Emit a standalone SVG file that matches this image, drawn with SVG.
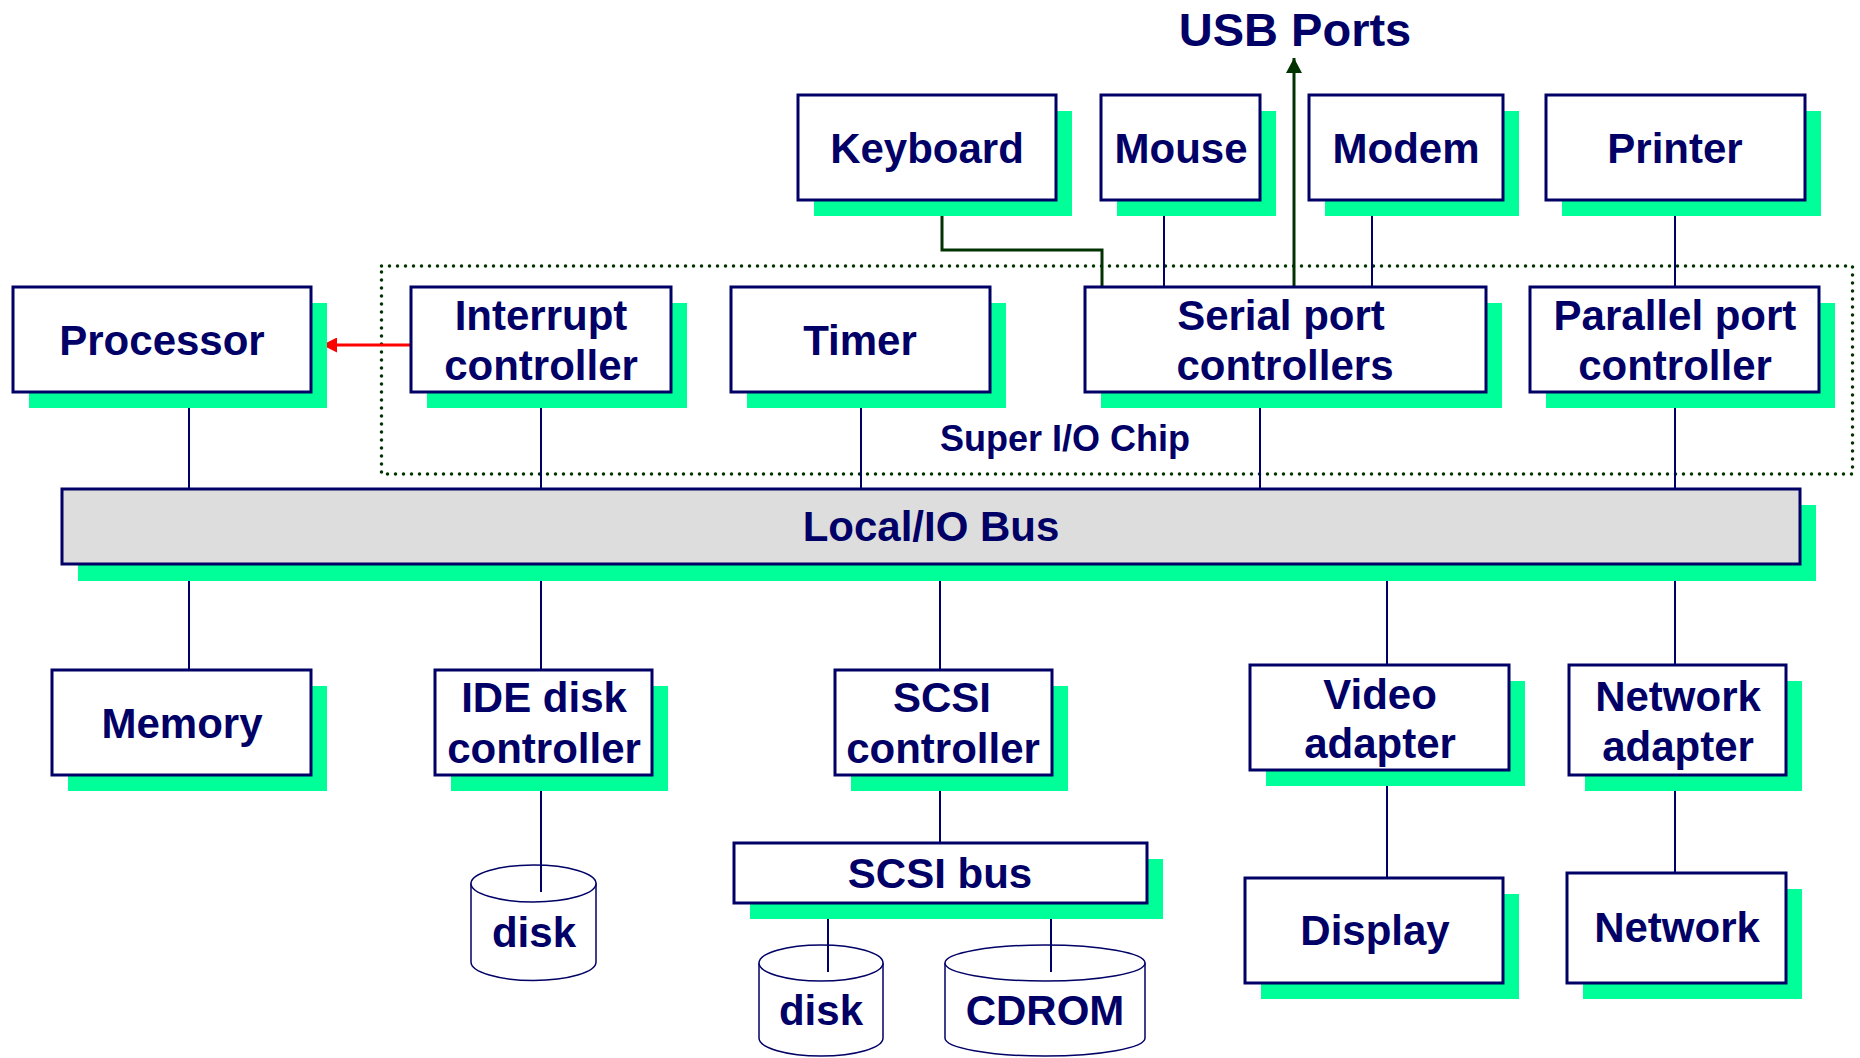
<svg xmlns="http://www.w3.org/2000/svg" width="1860" height="1058" viewBox="0 0 1860 1058">
<defs>
<style>
.sh{fill:#00FF99;stroke:none}
.bx{fill:#FFFFFF;stroke:#000066;stroke-width:3}
.bus{fill:#DDDDDD;stroke:#000066;stroke-width:3}
.t{font-family:"Liberation Sans",Arial,sans-serif;font-weight:bold;font-size:42px;fill:#000066;text-anchor:middle}
.ln{stroke:#000066;stroke-width:2;fill:none}
.cy{fill:#FFFFFF;stroke:#000066;stroke-width:1.5}
.gr{stroke:#003300;stroke-width:3;fill:none}
</style>
<marker id="ar" markerWidth="15" markerHeight="16" refX="15" refY="8" orient="auto" markerUnits="userSpaceOnUse" viewBox="0 0 15 16">
<path d="M0,0 L15,8 L0,16 Z" fill="#003300"/>
</marker>
<marker id="arr" markerWidth="15" markerHeight="15" refX="15" refY="7.5" orient="auto" markerUnits="userSpaceOnUse" viewBox="0 0 15 15">
<path d="M0,0 L15,7.5 L0,15 Z" fill="#FF0000"/>
</marker>
</defs>
<rect width="1860" height="1058" fill="#FFFFFF"/>

<g id="superio">
<rect x="381.5" y="266" width="1471" height="208" fill="none" stroke="#003300" stroke-width="3.5" stroke-linecap="round" stroke-dasharray="0 8"/>
<text class="t" x="1065" y="451" style="font-size:36px">Super I/O Chip</text>
</g>

<g id="connectors">
<line class="ln" x1="189" y1="407" x2="189" y2="489"/>
<line class="ln" x1="541" y1="407" x2="541" y2="489"/>
<line class="ln" x1="861" y1="407" x2="861" y2="489"/>
<line class="ln" x1="1260" y1="407" x2="1260" y2="489"/>
<line class="ln" x1="1675" y1="407" x2="1675" y2="489"/>
<line class="ln" x1="1164" y1="216" x2="1164" y2="287"/>
<line class="ln" x1="1372" y1="216" x2="1372" y2="287"/>
<line class="ln" x1="1675" y1="216" x2="1675" y2="287"/>
<polyline class="gr" points="942,216 942,250 1102,250 1102,287"/>
<line class="gr" x1="1294" y1="287" x2="1294" y2="58" marker-end="url(#ar)"/>
<line x1="411" y1="345" x2="322" y2="345" stroke="#FF0000" stroke-width="3" marker-end="url(#arr)"/>
<line class="ln" x1="189" y1="581" x2="189" y2="670"/>
<line class="ln" x1="541" y1="581" x2="541" y2="670"/>
<line class="ln" x1="940" y1="581" x2="940" y2="670"/>
<line class="ln" x1="1387" y1="581" x2="1387" y2="665"/>
<line class="ln" x1="1675" y1="581" x2="1675" y2="665"/>
<line class="ln" x1="940" y1="791" x2="940" y2="843"/>
<line class="ln" x1="1387" y1="786" x2="1387" y2="878"/>
<line class="ln" x1="1675" y1="791" x2="1675" y2="873"/>
</g>

<g id="usb">
<text class="t" x="1295" y="46" style="font-size:47px">USB Ports</text>
</g>

<g id="keyboard">
<rect class="sh" x="814" y="111" width="258" height="105"/>
<rect class="bx" x="798" y="95" width="258" height="105"/>
<text class="t" x="927" y="163">Keyboard</text>
</g>
<g id="mouse">
<rect class="sh" x="1117" y="111" width="159" height="105"/>
<rect class="bx" x="1101" y="95" width="159" height="105"/>
<text class="t" x="1181" y="163">Mouse</text>
</g>
<g id="modem">
<rect class="sh" x="1325" y="111" width="194" height="105"/>
<rect class="bx" x="1309" y="95" width="194" height="105"/>
<text class="t" x="1406" y="163">Modem</text>
</g>
<g id="printer">
<rect class="sh" x="1562" y="111" width="259" height="105"/>
<rect class="bx" x="1546" y="95" width="259" height="105"/>
<text class="t" x="1675" y="163">Printer</text>
</g>

<g id="processor">
<rect class="sh" x="29" y="303" width="298" height="105"/>
<rect class="bx" x="13" y="287" width="298" height="105"/>
<text class="t" x="162" y="355">Processor</text>
</g>
<g id="interrupt">
<rect class="sh" x="427" y="303" width="260" height="105"/>
<rect class="bx" x="411" y="287" width="260" height="105"/>
<text class="t" x="541" y="330">Interrupt</text>
<text class="t" x="541" y="380">controller</text>
</g>
<g id="timer">
<rect class="sh" x="747" y="303" width="259" height="105"/>
<rect class="bx" x="731" y="287" width="259" height="105"/>
<text class="t" x="860" y="355">Timer</text>
</g>
<g id="serial">
<rect class="sh" x="1101" y="303" width="401" height="105"/>
<rect class="bx" x="1085" y="287" width="401" height="105"/>
<text class="t" x="1281" y="330">Serial port</text>
<text class="t" x="1285" y="380">controllers</text>
</g>
<g id="parallel">
<rect class="sh" x="1546" y="303" width="289" height="105"/>
<rect class="bx" x="1530" y="287" width="289" height="105"/>
<text class="t" x="1675" y="330">Parallel port</text>
<text class="t" x="1675" y="380">controller</text>
</g>

<g id="localbus">
<rect class="sh" x="78" y="505" width="1738" height="76"/>
<rect class="bus" x="62" y="489" width="1738" height="75"/>
<text class="t" x="931" y="541">Local/IO Bus</text>
</g>

<g id="memory">
<rect class="sh" x="68" y="686" width="259" height="105"/>
<rect class="bx" x="52" y="670" width="259" height="105"/>
<text class="t" x="182" y="738">Memory</text>
</g>
<g id="ide">
<rect class="sh" x="451" y="686" width="217" height="105"/>
<rect class="bx" x="435" y="670" width="217" height="105"/>
<text class="t" x="544" y="712">IDE disk</text>
<text class="t" x="544" y="763">controller</text>
</g>
<g id="scsictl">
<rect class="sh" x="851" y="686" width="217" height="105"/>
<rect class="bx" x="835" y="670" width="217" height="105"/>
<text class="t" x="942" y="712">SCSI</text>
<text class="t" x="943" y="763">controller</text>
</g>
<g id="video">
<rect class="sh" x="1266" y="681" width="259" height="105"/>
<rect class="bx" x="1250" y="665" width="259" height="105"/>
<text class="t" x="1380" y="709">Video</text>
<text class="t" x="1380" y="758">adapter</text>
</g>
<g id="netadapter">
<rect class="sh" x="1585" y="681" width="217" height="110"/>
<rect class="bx" x="1569" y="665" width="217" height="110"/>
<text class="t" x="1678" y="711">Network</text>
<text class="t" x="1678" y="761">adapter</text>
</g>

<g id="scsibus">
<rect class="sh" x="750" y="859" width="413" height="60"/>
<rect class="bx" x="734" y="843" width="413" height="60"/>
<text class="t" x="940" y="888">SCSI bus</text>
</g>
<g id="display">
<rect class="sh" x="1261" y="894" width="258" height="105"/>
<rect class="bx" x="1245" y="878" width="258" height="105"/>
<text class="t" x="1375" y="945">Display</text>
</g>
<g id="network">
<rect class="sh" x="1583" y="889" width="219" height="110"/>
<rect class="bx" x="1567" y="873" width="219" height="110"/>
<text class="t" x="1677" y="942">Network</text>
</g>

<g id="idedisk">
<path class="cy" d="M471,883 L471,962 A62.5,18.5 0 0 0 596,962 L596,883"/>
<ellipse class="cy" cx="533.5" cy="883.5" rx="62.5" ry="18.5"/>
<line class="ln" x1="541" y1="791" x2="541" y2="892"/>
<text class="t" x="534" y="947">disk</text>
</g>
<g id="scsidisk">
<path class="cy" d="M759,963 L759,1038 A62,18 0 0 0 883,1038 L883,963"/>
<ellipse class="cy" cx="821" cy="963" rx="62" ry="18"/>
<line class="ln" x1="828" y1="919" x2="828" y2="972"/>
<text class="t" x="821" y="1025">disk</text>
</g>
<g id="cdrom">
<path class="cy" d="M945,963 L945,1038 A100,18 0 0 0 1145,1038 L1145,963"/>
<ellipse class="cy" cx="1045" cy="963" rx="100" ry="18"/>
<line class="ln" x1="1051" y1="919" x2="1051" y2="972"/>
<text class="t" x="1045" y="1025">CDROM</text>
</g>
</svg>
